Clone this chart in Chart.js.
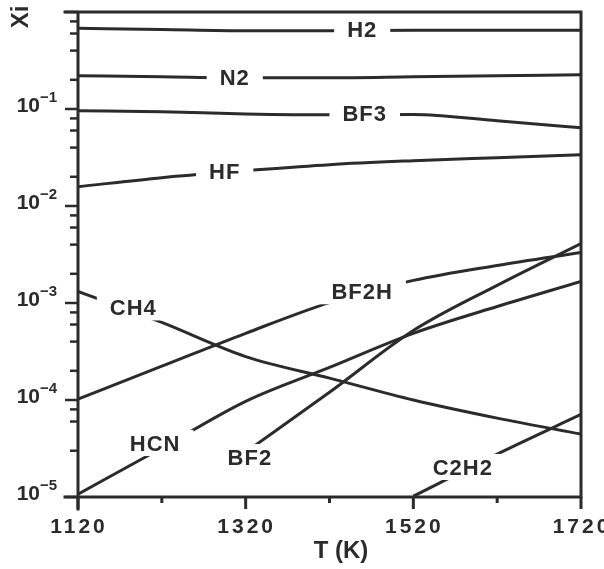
<!DOCTYPE html>
<html>
<head>
<meta charset="utf-8">
<script src="https://cdn.jsdelivr.net/npm/chart.js@4.4.1/dist/chart.umd.min.js"></script>
<style>
  html, body { margin: 0; padding: 0; background: #fff; }
  #wrap { width: 604px; height: 569px; }
</style>
</head>
<body>
<div id="wrap"><canvas id="xiChart" width="604" height="569"></canvas></div>
<script>
// mole fractions vs temperature
const temps = [1120, 1220, 1320, 1420, 1520, 1620, 1720];

const h2   = [0.68, 0.66, 0.64, 0.64, 0.65, 0.65, 0.65];
const n2   = [0.22, 0.215, 0.21, 0.21, 0.215, 0.22, 0.225];
const bf3  = [0.096, 0.0935, 0.089, 0.087, 0.088, 0.0755, 0.064];
const hf   = [0.0158, 0.0196, 0.0231, 0.0267, 0.0293, 0.0315, 0.0338];
const ch4  = [1.32e-3, 6.3e-4, 2.8e-4, 1.68e-4, 1.0e-4, 6.5e-5, 4.45e-5];
const bf2h = [1.02e-4, 2.23e-4, 4.87e-4, 1.01e-3, 1.71e-3, 2.44e-3, 3.32e-3];
const hcn  = [1.07e-5, 3.2e-5, 9.7e-5, 2.17e-4, 4.87e-4, 9.2e-4, 1.67e-3];
const bf2  = [null, null, 2.9e-5, 1.2e-4, 5.2e-4, 1.52e-3, 4.1e-3];
const c2h2 = [null, null, null, null, 1.02e-5, 2.77e-5, 7.1e-5];

const speciesNames = ['H2', 'N2', 'BF3', 'HF', 'CH4', 'BF2H', 'HCN', 'BF2', 'C2H2'];
const speciesData = [h2, n2, bf3, hf, ch4, bf2h, hcn, bf2, c2h2];

// where each name sits on its curve (T, Xi)
const labelT  = [1459, 1307, 1462, 1295, 1186, 1459, 1212, 1325, 1579];
const labelXi = [0.668, 0.214, 0.0914, 0.0231, 9.0e-4, 1.32e-3, 3.6e-5, 2.58e-5, 2.04e-5];

const xTickLabels = ['1120', '1320', '1520', '1720'];
const yExpLabels = ['\u22121', '\u22122', '\u22123', '\u22124', '\u22125'];

const INK = '#2b2b2b';
const FONT = '"Liberation Sans", Arial, Helvetica, sans-serif';

const datasets = speciesNames.map((name, i) => ({
  label: name,
  data: temps.map((t, j) => ({ x: t, y: speciesData[i][j] })),
  borderColor: INK,
  borderWidth: 3,
  pointRadius: 0,
  cubicInterpolationMode: 'monotone',
  spanGaps: false,
  fill: false
}));

// curve names with a white gap behind them
const curveLabels = {
  id: 'curveLabels',
  afterDatasetsDraw(chart) {
    const ctx = chart.ctx;
    const xs = chart.scales.x, ys = chart.scales.y;
    ctx.save();
    ctx.font = 'bold 22px ' + FONT;
    ctx.letterSpacing = '1px';
    ctx.textAlign = 'center';
    ctx.textBaseline = 'alphabetic';
    speciesNames.forEach((name, i) => {
      const px = xs.getPixelForValue(labelT[i]);
      const py = ys.getPixelForValue(labelXi[i]);
      const w = ctx.measureText(name).width;
      ctx.fillStyle = '#fff';
      ctx.fillRect(px - w / 2 - 13, py - 13, w + 26, 26);
      ctx.fillStyle = INK;
      ctx.fillText(name, px, py + 8);
    });
    ctx.restore();
  }
};

// frame, ticks and tick labels in the style of the original plot
const paperAxes = {
  id: 'paperAxes',
  afterDraw(chart) {
    const ctx = chart.ctx;
    const a = chart.chartArea;
    const xs = chart.scales.x, ys = chart.scales.y;
    ctx.save();
    ctx.strokeStyle = INK;
    ctx.fillStyle = INK;
    ctx.lineWidth = 3;
    ctx.lineCap = 'square';

    ctx.beginPath();
    ctx.moveTo(a.left - 13, a.top); ctx.lineTo(a.right, a.top);
    ctx.lineTo(a.right, a.bottom); ctx.lineTo(a.left - 13, a.bottom);
    ctx.moveTo(a.left, a.top); ctx.lineTo(a.left, a.bottom + 12);
    ctx.stroke();

    // y ticks (log)
    ctx.lineWidth = 2.5;
    ctx.lineCap = 'butt';
    ys.ticks.forEach(t => {
      const y = ys.getPixelForValue(t.value);
      const m = t.value / Math.pow(10, Math.floor(Math.log10(t.value) + 1e-9));
      const major = Math.abs(m - 1) < 1e-6;
      ctx.beginPath();
      ctx.moveTo(a.left - (major ? 13 : 8), y);
      ctx.lineTo(a.left, y);
      ctx.stroke();
    });

    // x ticks
    xs.ticks.forEach((t, i) => {
      const x = xs.getPixelForValue(t.value);
      const major = i % 2 === 0;
      ctx.lineWidth = 3;
      ctx.beginPath();
      ctx.moveTo(x, a.bottom);
      ctx.lineTo(x, a.bottom + (major ? 12 : 6));
      ctx.stroke();
    });

    // x tick labels
    ctx.font = 'bold 21px ' + FONT;
    ctx.letterSpacing = '3px';
    ctx.textAlign = 'center';
    ctx.textBaseline = 'alphabetic';
    xTickLabels.forEach((lab, i) => {
      const x = xs.getPixelForValue(Number(lab));
      ctx.fillText(lab, x + 1, a.bottom + 36);
    });

    // y tick labels: 10 with superscript exponent
    ctx.letterSpacing = '0px';
    yExpLabels.forEach((exp, i) => {
      const y = ys.getPixelForValue(Math.pow(10, -(i + 1)));
      ctx.font = 'bold 21px ' + FONT;
      ctx.textAlign = 'right';
      ctx.fillText('10', 40, y + 3);
      ctx.font = 'bold 15px ' + FONT;
      ctx.textAlign = 'left';
      ctx.fillText(exp, 40, y - 7);
    });

    // axis titles
    ctx.font = 'bold 24px ' + FONT;
    ctx.textAlign = 'center';
    ctx.fillText('T (K)', 341, 558);

    ctx.translate(28, 17);
    ctx.rotate(-Math.PI / 2);
    ctx.textBaseline = 'alphabetic';
    ctx.fillText('Xi', 0, 0);
    ctx.restore();
  }
};

new Chart(document.getElementById('xiChart').getContext('2d'), {
  type: 'line',
  data: { datasets },
  options: {
    responsive: false,
    animation: false,
    devicePixelRatio: 1,
    layout: { padding: { left: 78, right: 23, top: 12, bottom: 72 } },
    plugins: {
      legend: { display: false },
      tooltip: { enabled: false }
    },
    scales: {
      x: { type: 'linear', min: 1120, max: 1720, display: false, ticks: { stepSize: 100 } },
      y: { type: 'logarithmic', min: 1e-5, max: 1, display: false }
    }
  },
  plugins: [curveLabels, paperAxes]
});
</script>
</body>
</html>
